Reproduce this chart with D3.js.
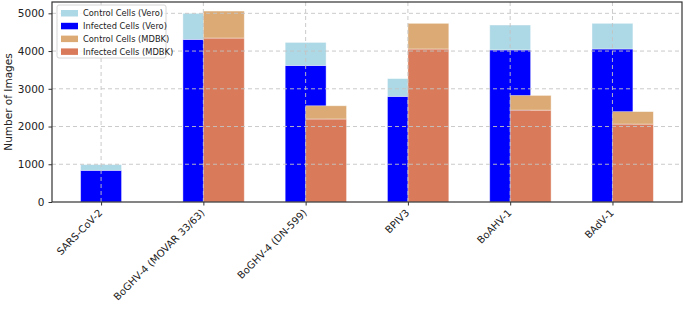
<!DOCTYPE html>
<html lang="en">
<head>
    <meta charset="UTF-8">
    <title>Number of Images per virus</title>
    <script src="https://d3js.org/d3.v7.min.js"></script>
    <style>
        body { margin: 0; background: #fff; }
        svg text { fill: #222; font-family: "DejaVu Sans", sans-serif; }
        .grid line { stroke: #c4c4c4; stroke-dasharray: 4,3; stroke-width: 0.9; }
    </style>
</head>
<body>
    <svg width="685" height="311"></svg>

    <script>
        // Data
        const categories = ["SARS-CoV-2", "BoGHV-4 (MOVAR 33/63)", "BoGHV-4 (DN-599)", "BPIV3", "BoAHV-1", "BAdV-1"];
        const veroInfected = [840, 4310, 3620, 2800, 4030, 4055];
        const veroControl = [150, 690, 610, 470, 660, 680];
        const mdbkInfected = [null, 4345, 2200, 4055, 2435, 2065];
        const mdbkControl = [null, 715, 350, 680, 390, 330];
        const yTicks = [0, 1000, 2000, 3000, 4000, 5000];

        const legendItems = [
            { label: "Control Cells (Vero)", color: "#add8e6" },
            { label: "Infected Cells (Vero)", color: "#0000ff" },
            { label: "Control Cells (MDBK)", color: "#dbaa75" },
            { label: "Infected Cells (MDBK)", color: "#d97b5a" }
        ];

        const svg = d3.select("svg");
        const m = { left: 52, right: 682, top: 2, bottom: 202 };

        const barW = 0.4;
        const x = d3.scaleLinear().domain([-0.48, 5.68]).range([m.left, m.right]);
        const y = d3.scaleLinear().domain([0, 5300]).range([m.bottom, m.top]);

        // bars: Vero centred on tick, MDBK shifted right by half a bar
        function drawBars(infected, control, offset, cInf, cCtl) {
            categories.forEach((c, i) => {
                if (infected[i] == null) return;
                const x0 = x(i + offset - barW / 2), x1 = x(i + offset + barW / 2);
                const total = infected[i] + control[i];
                svg.append("rect")
                    .attr("x", x0).attr("width", x1 - x0)
                    .attr("y", y(infected[i])).attr("height", y(0) - y(infected[i]))
                    .attr("fill", cInf)
                    .attr("stroke", "#fff").attr("stroke-opacity", 0.5).attr("stroke-width", 0.8);
                svg.append("rect")
                    .attr("x", x0).attr("width", x1 - x0)
                    .attr("y", y(total)).attr("height", y(infected[i]) - y(total))
                    .attr("fill", cCtl)
                    .attr("stroke", "#fff").attr("stroke-opacity", 0.5).attr("stroke-width", 0.8);
            });
        }
        drawBars(veroInfected, veroControl, 0, legendItems[1].color, legendItems[0].color);
        drawBars(mdbkInfected, mdbkControl, barW / 2, legendItems[3].color, legendItems[2].color);

        // grid on top of bars
        const grid = svg.append("g").attr("class", "grid");
        grid.selectAll(".h").data(yTicks.slice(1)).join("line")
            .attr("x1", m.left).attr("x2", m.right)
            .attr("y1", d => y(d)).attr("y2", d => y(d));
        grid.selectAll(".v").data(d3.range(categories.length)).join("line")
            .attr("x1", d => x(d)).attr("x2", d => x(d))
            .attr("y1", m.top).attr("y2", m.bottom);

        // axes
        const yAxis = svg.append("g")
            .attr("transform", `translate(${m.left},0)`)
            .call(d3.axisLeft(y).tickValues(yTicks).tickFormat(d3.format("d"))
                .tickSize(3.5).tickPadding(4));
        yAxis.select(".domain").remove();
        yAxis.selectAll("text").style("font-size", "10.5px");
        yAxis.selectAll("line").attr("stroke", "#333");

        const xAxis = svg.append("g")
            .attr("transform", `translate(0,${m.bottom})`)
            .call(d3.axisBottom(x).tickValues(d3.range(categories.length))
                .tickFormat(i => categories[i]).tickSize(3.5));
        xAxis.select(".domain").remove();
        xAxis.selectAll("line").attr("stroke", "#333");
        xAxis.selectAll("text")
            .style("font-size", "10px")
            .attr("text-anchor", "end")
            .attr("dy", "0.35em")
            .attr("transform", "translate(-1,9) rotate(-45)")
            .attr("x", 0).attr("y", 0);

        // frame
        svg.append("rect")
            .attr("x", m.left).attr("y", m.top)
            .attr("width", m.right - m.left).attr("height", m.bottom - m.top)
            .attr("fill", "none").attr("stroke", "#333").attr("stroke-width", 1.2);

        svg.append("text")
            .attr("transform", `translate(8,${(m.top + m.bottom) / 2}) rotate(-90)`)
            .attr("text-anchor", "middle")
            .attr("dy", "0.35em")
            .style("font-size", "10.5px")
            .text("Number of Images");

        // legend
        const lg = svg.append("g").attr("transform", "translate(57,5)");
        lg.append("rect")
            .attr("width", 109).attr("height", 53).attr("rx", 2)
            .attr("fill", "#fff").attr("fill-opacity", 0.8)
            .attr("stroke", "#d6d6d6");
        legendItems.forEach((d, i) => {
            lg.append("rect")
                .attr("x", 4).attr("y", 5 + i * 12.8)
                .attr("width", 17).attr("height", 6.5)
                .attr("fill", d.color);
            lg.append("text")
                .attr("x", 26).attr("y", 8.5 + i * 12.8)
                .attr("dy", "0.35em")
                .style("font-size", "8.3px")
                .text(d.label);
        });
    </script>
</body>
</html>
